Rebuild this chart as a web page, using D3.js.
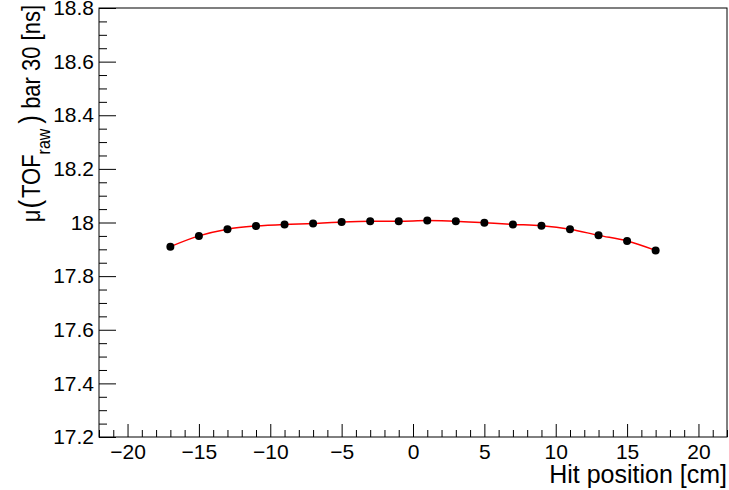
<!DOCTYPE html>
<html>
<head>
<meta charset="utf-8">
<script src="https://cdn.jsdelivr.net/npm/d3@7"></script>
<style>
  body { margin: 0; background: #fff; }
  svg text { font-family: "Liberation Sans", Arial, Helvetica, sans-serif; fill: #000; }
  .axis path { display: none; }
  .axis line { stroke: #000; stroke-width: 1; }
</style>
</head>
<body>
<div id="chart"></div>
<script>
// hit positions [cm] and fitted mean TOF [ns]
var positions = [-17, -15, -13, -11, -9, -7, -5, -3, -1, 1, 3, 5, 7, 9, 11, 13, 15, 17];
var tofMeans = [17.910, 17.950, 17.975, 17.987, 17.993, 17.996, 18.002, 18.005, 18.005,
                18.007, 18.005, 17.999, 17.993, 17.988, 17.975, 17.952, 17.931, 17.896];
var xTicks = [-20, -15, -10, -5, 0, 5, 10, 15, 20];
var yTicks = [17.2, 17.4, 17.6, 17.8, 18, 18.2, 18.4, 18.6, 18.8];

var W = 729, H = 490;
var margin = {top: 8, right: 2, bottom: 53, left: 99};
var width = W - margin.left - margin.right;
var height = H - margin.top - margin.bottom;

var svg = d3.select("#chart").append("svg")
    .attr("width", W)
    .attr("height", H);

var g = svg.append("g")
    .attr("transform", "translate(" + margin.left + "," + margin.top + ")");

var x = d3.scaleLinear().domain([-22, 22]).range([0, width]);
var y = d3.scaleLinear().domain([17.2, 18.8]).range([height, 0]);

// minor ticks
var xMinor = d3.range(-22, 23, 1).filter(function(v) { return v % 5 != 0; });
var yMinor = d3.range(0, 33).map(function(i) { return +(17.2 + i * 0.05).toFixed(2); })
    .filter(function(v) { return yTicks.indexOf(v) < 0; });

g.append("g")
    .attr("class", "axis")
    .attr("transform", "translate(0," + height + ")")
    .call(d3.axisBottom(x).tickValues(xMinor).tickSize(-7).tickFormat(""));
g.append("g")
    .attr("class", "axis")
    .call(d3.axisLeft(y).tickValues(yMinor).tickSize(-8).tickFormat(""));

var xAxis = g.append("g")
    .attr("class", "axis")
    .attr("transform", "translate(0," + height + ")")
    .call(d3.axisBottom(x).tickValues(xTicks).tickSize(-13).tickPadding(7));
xAxis.selectAll("text").style("font-size", "21px");

var yAxis = g.append("g")
    .attr("class", "axis")
    .call(d3.axisLeft(y).tickValues(yTicks).tickSize(-17).tickPadding(5)
        .tickFormat(function(d) { return String(d); }));
yAxis.selectAll("text").style("font-size", "21px");

// frame
g.append("rect")
    .attr("width", width)
    .attr("height", height)
    .attr("fill", "none")
    .attr("stroke", "#000")
    .attr("stroke-width", 1);

// fit line
var pts = positions.map(function(p, i) { return [p, tofMeans[i]]; });
var line = d3.line()
    .x(function(d) { return x(d[0]); })
    .y(function(d) { return y(d[1]); })
    .curve(d3.curveMonotoneX);

g.append("path")
    .datum(pts)
    .attr("d", line)
    .attr("fill", "none")
    .attr("stroke", "#ff0000")
    .attr("stroke-width", 1.5);

g.selectAll("circle")
    .data(pts)
  .enter().append("circle")
    .attr("cx", function(d) { return x(d[0]); })
    .attr("cy", function(d) { return y(d[1]); })
    .attr("r", 4)
    .attr("fill", "#000");

// axis titles
svg.append("text")
    .attr("x", margin.left + width)
    .attr("y", 483)
    .attr("text-anchor", "end")
    .style("font-size", "25px")
    .text("Hit position [cm]");

var yt = svg.append("text")
    .attr("transform", "translate(40,5) rotate(-90) scale(1,1.15)")
    .attr("text-anchor", "end")
    .style("font-size", "22px");
yt.append("tspan").text("\u03bc");
yt.append("tspan").attr("dx", 1).style("font-size", "26px").style("font-weight", "300").text("(");
yt.append("tspan").attr("dx", 2).text("TOF");
yt.append("tspan").attr("dy", 9).style("font-size", "16px").text("raw");
yt.append("tspan").attr("dy", -9).attr("dx", 5).style("font-size", "26px").text(")");
yt.append("tspan").text(" bar 30 [ns]");
</script>
</body>
</html>
